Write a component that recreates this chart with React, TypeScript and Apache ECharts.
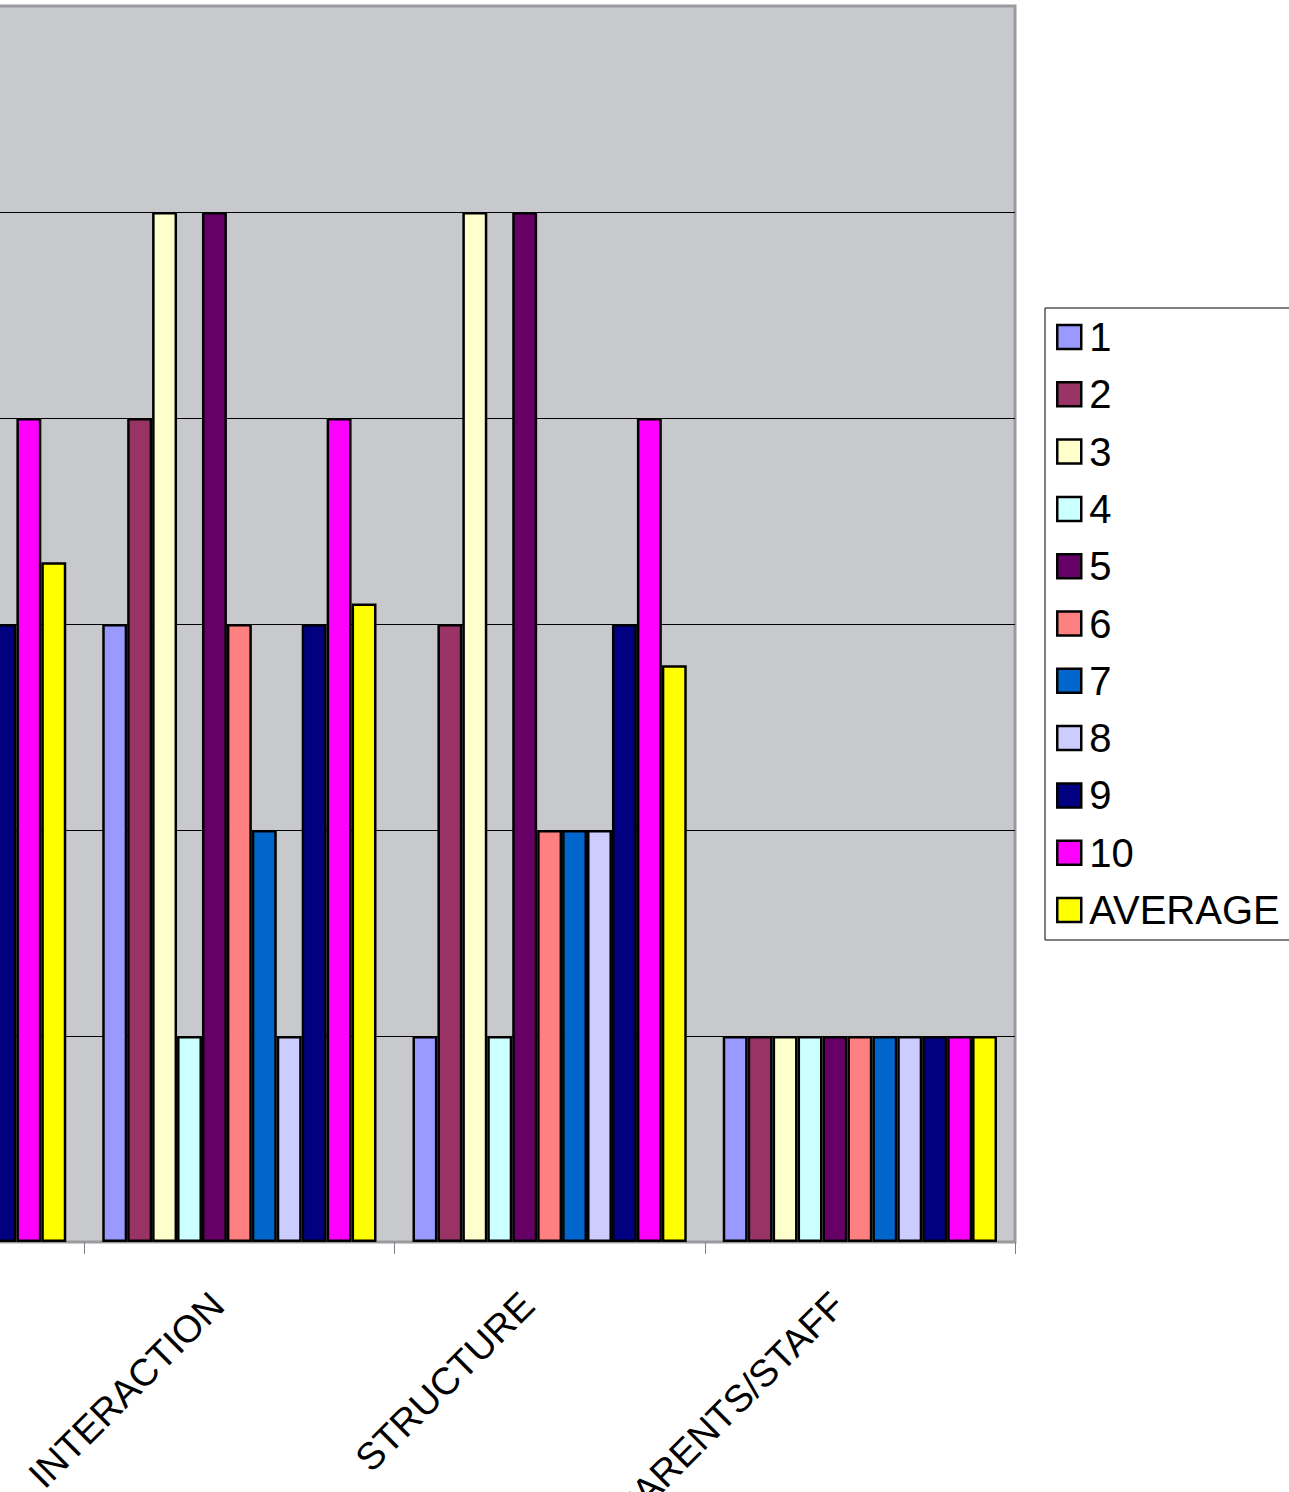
import React, { useEffect, useRef } from "react";
import * as echarts from "echarts";

const categories = ["ACTIVITIES", "INTERACTION", "STRUCTURE", "PARENTS/STAFF"];
const seriesNames = ["1", "2", "3", "4", "5", "6", "7", "8", "9", "10", "AVERAGE"];
const s1 = [3, 3, 1, 1];
const s2 = [4, 4, 3, 1];
const s3 = [4, 5, 5, 1];
const s4 = [2, 1, 1, 1];
const s5 = [5, 5, 5, 1];
const s6 = [3, 3, 2, 1];
const s7 = [2, 2, 2, 1];
const s8 = [3, 1, 2, 1];
const s9 = [3, 3, 3, 1];
const s10 = [4, 4, 4, 1];
const avg = [3.3, 3.1, 2.8, 1];
const seriesData = [s1, s2, s3, s4, s5, s6, s7, s8, s9, s10, avg];
const colors = [
  "#9999FF", "#993366", "#FFFFCC", "#CCFFFF", "#660066", "#FF8080",
  "#0066CC", "#CCCCFF", "#000080", "#FF00FF", "#FFFF00",
];
const yTicks = [0, 1, 2, 3, 4, 5, 6];

const SHIFT = 260;
const FONT = "Liberation Sans, Arial, sans-serif";

export default function App() {
  const ref = useRef<HTMLDivElement>(null);
  useEffect(() => {
    if (!ref.current) return;
    const chart = echarts.init(ref.current, undefined, { renderer: "svg" });
    chart.setOption({
      animation: false,
      backgroundColor: "#ffffff",
      textStyle: { fontFamily: FONT },
      grid: {
        show: true,
        left: 34,
        right: 274,
        top: 6,
        bottom: 250,
        backgroundColor: "#C8C9CC",
        borderColor: "#9A9B9E",
        borderWidth: 3,
        containLabel: false,
        outerBoundsMode: "none",
      },
      legend: {
        orient: "vertical",
        left: 1045 + SHIFT,
        top: 308,
        data: seriesNames,
        icon: "rect",
        itemWidth: 24,
        itemHeight: 24,
        itemGap: 17.3,
        padding: [9, 30, 10, 11],
        borderColor: "#000",
        borderWidth: 1,
        backgroundColor: "#fff",
        itemStyle: { borderColor: "#000", borderWidth: 2.5 },
        textStyle: {
          fontSize: 40,
          lineHeight: 40,
          color: "#000",
          fontFamily: FONT,
          padding: [0, 0, 0, 3],
        },
      },
      xAxis: {
        type: "category",
        data: categories,
        axisLine: { show: true, lineStyle: { color: "#9A9B9E", width: 2 } },
        axisTick: { show: true, length: 12, lineStyle: { color: "#808080", width: 1 } },
        axisLabel: {
          interval: 0,
          rotate: 45,
          fontSize: 38,
          color: "#000",
          fontFamily: FONT,
          margin: 35,
          padding: [0, 31, 0, 0],
        },
        splitLine: { show: false },
      },
      yAxis: {
        type: "value",
        min: yTicks[0],
        max: yTicks[yTicks.length - 1],
        interval: 1,
        axisLine: { show: false },
        axisTick: { show: false },
        axisLabel: { show: false },
        splitLine: {
          show: true,
          showMinLine: false,
          showMaxLine: false,
          lineStyle: { color: "#000", width: 1 },
        },
      },
      series: seriesNames.map((name, i) => ({
        name,
        type: "bar",
        data: seriesData[i],
        barGap: "0%",
        barCategoryGap: "11.6%",
        itemStyle: { color: colors[i], borderColor: "#000", borderWidth: 2.5 },
      })),
    });
    return () => chart.dispose();
  }, []);
  return (
    <div
      ref={ref}
      style={{
        position: "absolute",
        left: -SHIFT,
        top: 0,
        width: 1289 + SHIFT,
        height: 1492,
      }}
    />
  );
}
